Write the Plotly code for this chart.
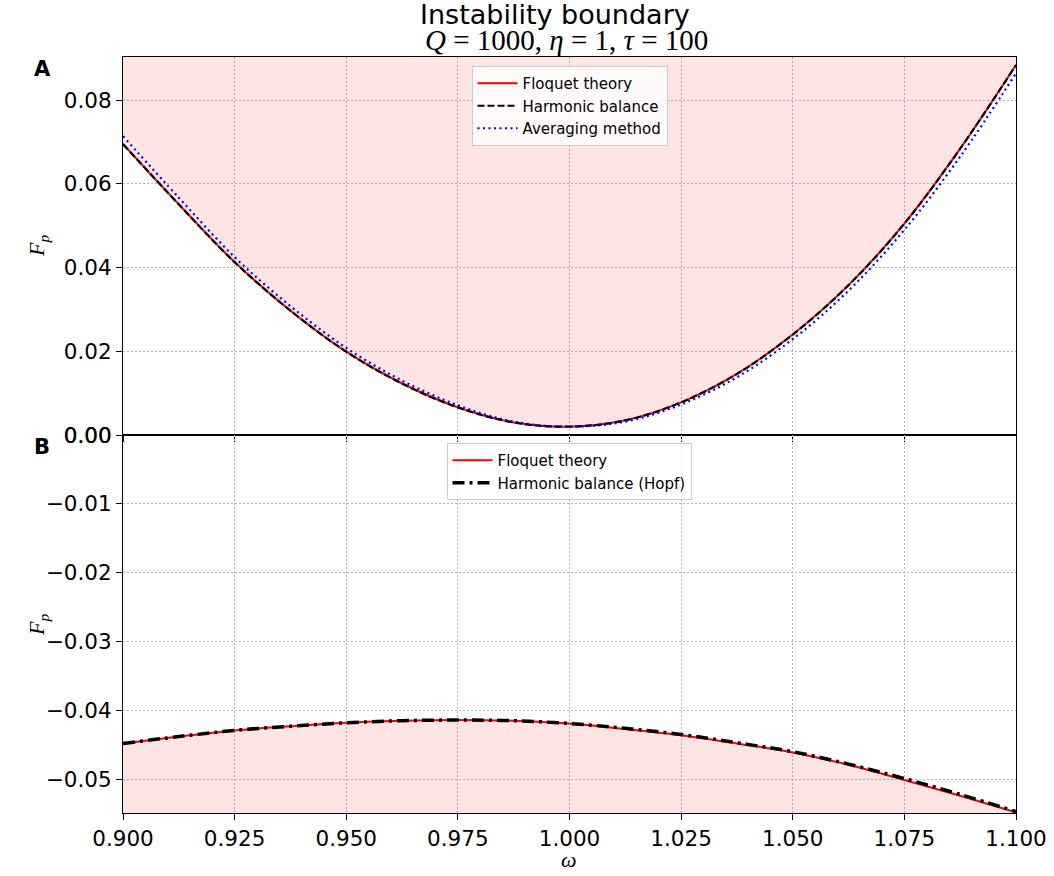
import plotly.graph_objects as go
from plotly.subplots import make_subplots

# ---------------- data ----------------
omega = [0.9, 0.9125, 0.925, 0.9375, 0.95, 0.9625, 0.975, 0.9875, 1.0,
         1.0125, 1.025, 1.0375, 1.05, 1.0625, 1.075, 1.0875, 1.1]

# Panel A
floquet_A = [0.0695, 0.0551, 0.0413, 0.0297, 0.0199, 0.0123, 0.0066, 0.0030, 0.0020,
             0.0035, 0.0078, 0.0146, 0.0240, 0.0358, 0.0505, 0.0684, 0.0884]
harmonic_A = [0.0695, 0.0551, 0.0413, 0.0297, 0.0199, 0.0123, 0.0066, 0.0030, 0.0020,
              0.0035, 0.0078, 0.0146, 0.0240, 0.0358, 0.0505, 0.0684, 0.0884]
averaging_A = [0.0714, 0.0567, 0.0425, 0.0308, 0.0208, 0.0130, 0.0071, 0.0032, 0.0020,
               0.0032, 0.0073, 0.0138, 0.0229, 0.0345, 0.0490, 0.0665, 0.0864]

# Panel B
floquet_B = [-0.0448, -0.0438, -0.0429, -0.0423, -0.0418, -0.0415, -0.0414, -0.0415, -0.0419,
             -0.0427, -0.0436, -0.0448, -0.0461, -0.0479, -0.0501, -0.0524, -0.0548]
hopf_B = [-0.0448, -0.0438, -0.0429, -0.0423, -0.0418, -0.0415, -0.0414, -0.0415, -0.0419,
          -0.0426, -0.0435, -0.0447, -0.0460, -0.0478, -0.0499, -0.0522, -0.0547]

x_ticks = [0.9, 0.925, 0.95, 0.975, 1.0, 1.025, 1.05, 1.075, 1.1]
yA_ticks = [0.0, 0.02, 0.04, 0.06, 0.08]
yB_ticks = [0.0, -0.01, -0.02, -0.03, -0.04, -0.05]

X_RANGE = [0.9, 1.1]
YA_RANGE = [0.0, 0.0903]
YB_RANGE = [-0.0549, 0.0]

# ---------------- style ----------------
FILL = "rgba(255,0,0,0.105)"
GRID = "#b4b4b4"
SANS = "DejaVu Sans"
SERIF = "Liberation Serif"

fig = make_subplots(rows=2, cols=1, shared_xaxes=True, vertical_spacing=0)

# Panel A fill (above the boundary up to the axis top)
fig.add_trace(go.Scatter(x=omega, y=[YA_RANGE[1]] * len(omega), mode="lines",
                         line=dict(width=0, color=FILL), showlegend=False,
                         hoverinfo="skip", legend="legend3"), row=1, col=1)
fig.add_trace(go.Scatter(x=omega, y=floquet_A, mode="lines", fill="tonexty",
                         fillcolor=FILL, line=dict(width=0, shape="spline"),
                         showlegend=False, hoverinfo="skip", legend="legend3"), row=1, col=1)

fig.add_trace(go.Scatter(x=omega, y=floquet_A, mode="lines", name="Floquet theory",
                         line=dict(color="red", width=2, shape="spline"),
                         legend="legend"), row=1, col=1)
fig.add_trace(go.Scatter(x=omega, y=harmonic_A, mode="lines", name="Harmonic balance",
                         line=dict(color="black", width=2.2, dash="7px,3px", shape="spline"),
                         legend="legend"), row=1, col=1)
fig.add_trace(go.Scatter(x=omega, y=averaging_A, mode="lines", name="Averaging method",
                         line=dict(color="blue", width=2.2, dash="2px,3.5px", shape="spline"),
                         legend="legend"), row=1, col=1)

# Panel B fill (below the boundary down to the axis bottom)
fig.add_trace(go.Scatter(x=omega, y=[YB_RANGE[0]] * len(omega), mode="lines",
                         line=dict(width=0, color=FILL), showlegend=False,
                         hoverinfo="skip", legend="legend3"), row=2, col=1)
fig.add_trace(go.Scatter(x=omega, y=floquet_B, mode="lines", fill="tonexty",
                         fillcolor=FILL, line=dict(width=0, shape="spline"),
                         showlegend=False, hoverinfo="skip", legend="legend3"), row=2, col=1)

fig.add_trace(go.Scatter(x=omega, y=floquet_B, mode="lines", name="Floquet theory",
                         line=dict(color="red", width=2, shape="spline"),
                         legend="legend2"), row=2, col=1)
fig.add_trace(go.Scatter(x=omega, y=hopf_B, mode="lines", name="Harmonic balance (Hopf)",
                         line=dict(color="black", width=3.5, dash="12px,5px,3px,5px",
                                   shape="spline"),
                         legend="legend2"), row=2, col=1)

axis_common = dict(showline=True, linecolor="black", linewidth=1.2, mirror=True,
                   ticks="outside", ticklen=6, tickwidth=1.2, tickcolor="black",
                   showgrid=True, gridcolor=GRID, griddash="1.5px,2.5px", gridwidth=1,
                   zeroline=False, automargin=False,
                   tickfont=dict(family=SANS, size=21.5, color="black"))

fig.update_xaxes(range=X_RANGE, tickvals=x_ticks, tickformat=".3f", **axis_common)
fig.update_xaxes(showticklabels=False, row=1, col=1)
fig.update_yaxes(range=YA_RANGE, tickvals=yA_ticks, tickformat=".2f", row=1, col=1, **axis_common)
fig.update_yaxes(range=YB_RANGE, tickvals=yB_ticks, tickformat=".2f", row=2, col=1, **axis_common)

# page margins are removed by the post script, so the figure fills the window
W, H = 1054, 876
PL, PR, PT, PB = 123, 1016, 57, 813          # plot area in reference pixels
L, T = PL, PT
R = W - PR
B = H - PB
pw, ph = PR - PL, PB - PT


def px_x(p):
    return (p - PL) / pw


def px_y(p):
    return (PB - p) / ph


legend_style = dict(bgcolor="rgba(255,255,255,0.8)", bordercolor="#cccccc", borderwidth=1,
                    font=dict(family=SANS, size=15, color="black"), traceorder="normal",
                    xanchor="center", yanchor="top", itemwidth=40, tracegroupgap=0)


def label(text, x, y, family, size, angle=0):
    return dict(text=text, x=px_x(x), y=px_y(y), xref="paper", yref="paper",
                xanchor="center", yanchor="middle", showarrow=False, textangle=angle,
                font=dict(family=family, size=size, color="black"))


fig.update_layout(
    width=W, height=H,
    margin=dict(l=L, r=R, t=T, b=B, autoexpand=False),
    plot_bgcolor="white", paper_bgcolor="white",
    legend=dict(x=px_x(569.5), y=px_y(66), **legend_style),
    legend2=dict(x=px_x(569), y=px_y(443), **legend_style),
    legend3=dict(visible=False),
    annotations=[
        label("Instability boundary", 555, 15, SANS, 27),
        label("<i>Q</i> = 1000, <i>η</i> = 1, <i>τ</i> = 100", 566, 40, SERIF, 29),
        label("<b>A</b>", 42, 69, SANS, 21),
        label("<b>B</b>", 42, 447, SANS, 21),
        label("<i>F<sub>p</sub></i>", 38, 246, SERIF, 22, -90),
        label("<i>F<sub>p</sub></i>", 38, 625, SERIF, 22, -90),
        label("<i>ω</i>", 569, 859, SERIF, 22),
    ],
)

post = (
    "var de=document.documentElement, bd=document.body;"
    "de.style.margin='0px'; de.style.padding='0px'; de.style.overflow='hidden';"
    "bd.style.margin='0px'; bd.style.padding='0px'; bd.style.overflow='hidden';"
    "var gd=document.getElementById('{plot_id}'); gd.style.display='block';"
)

fig.write_html("out.html", post_script=post,
               config={"displayModeBar": False, "responsive": False})
